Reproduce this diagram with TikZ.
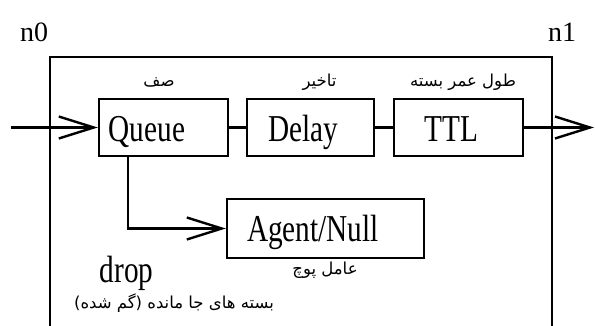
\documentclass[tikz,border=0pt]{standalone}
\usepackage{fontspec}
\usepackage{graphicx}
\setmainfont{Liberation Serif}
\newfontfamily\arabicfont[Script=Arabic]{DejaVu Sans}
\TeXXeTstate=1
\usetikzlibrary{arrows.meta}
% condensed setting of the block names
\newcommand{\narrowtext}[1]{\scalebox{0.77}[1]{#1}}
% right-to-left Persian text
\newcommand{\pertext}[1]{\arabicfont\beginR #1\endR}

\begin{document}
\begin{tikzpicture}[x=1pt,y=-1pt,
  blk/.style={draw, line width=2.4pt, inner sep=0pt, minimum height=57pt},
  big/.style={font=\fontsize{38}{40}\selectfont, inner sep=0pt, anchor=base},
  nodename/.style={font=\fontsize{28}{30}\selectfont, inner sep=0pt, anchor=base},
  fa/.style={font=\fontsize{16.5}{18}\selectfont, inner sep=0pt},
  wire/.style={line width=2.4pt},
  arr/.style={line width=2.4pt, -{Straight Barb[length=35pt, width=22pt, line width=2.4pt]}}
]
\useasboundingbox (0,0) rectangle (595,326);

% node frame
\draw[line width=2pt] (50,326) -- (50,57) -- (552,57) -- (552,326);

% node names
\node[nodename] (n0) at (34,42) {n0};
\node[nodename] (n1) at (562,42) {n1};

% link blocks
\node[blk, minimum width=129pt] (queue) at (163.5,127.5) {};
\node[blk, minimum width=127pt] (delay) at (310.5,127.5) {};
\node[blk, minimum width=129pt] (ttl)   at (458.5,127.5) {};
\node[blk, minimum width=197pt, minimum height=59pt] (agent) at (325.5,228.5) {};

\node[big] (queuet) at (147,142) {\narrowtext{Queue}};
\node[big] (delayt) at (303.5,142) {\narrowtext{Delay}};
\node[big] (ttlt)   at (451.5,142) {\narrowtext{TTL}};
\node[big] (agentt) at (313,242) {\narrowtext{Agent/Null}};
\node[big] (dropt)  at (126.5,283) {\narrowtext{drop}};

% Persian captions
\node[fa] (queuel) at (159,82) {\pertext{صف}};
\node[fa] (delayl) at (319.5,82) {\pertext{تاخیر}};
\node[fa] (ttll)   at (463,82) {\pertext{طول عمر بسته}};
\node[fa] (agentl) at (325,270) {\pertext{عامل پوچ}};
\node[fa] (dropl)  at (174,303) {\pertext{بسته های جا مانده (گم شده)}};

% connectors
\coordinate (in)  at (11,127.5);
\coordinate (out) at (594,127.5);
\draw[arr] (in) -- (queue.west);
\draw[wire] (queue.east) -- (delay.west);
\draw[wire] (delay.east) -- (ttl.west);
\draw[arr] (ttl.east) -- (out);
\draw[arr] ([xshift=-35.5pt]queue.south) |- (agent.west);
\end{tikzpicture}
\end{document}
